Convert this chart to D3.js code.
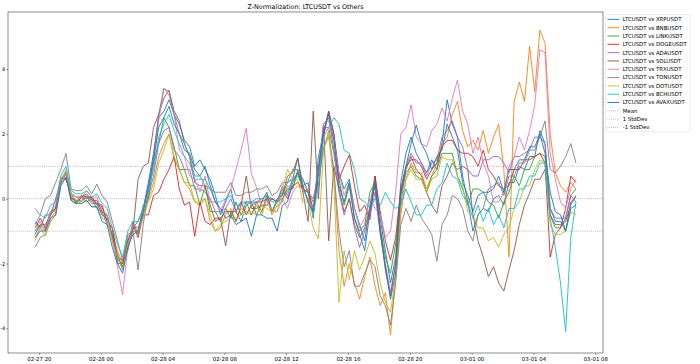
<!DOCTYPE html>
<html><head><meta charset="utf-8">
<script src="https://cdn.jsdelivr.net/npm/d3@7"></script>
<style>body{margin:0;background:#fff} text{font-family:"DejaVu Sans",sans-serif}</style>
</head><body><svg id="c" width="700" height="364"></svg>
<script>
const startTime = "2025-02-27T19:45:00Z";
const stepMinutes = 20;
const seriesNames = ["LTCUSDT vs XRPUSDT","LTCUSDT vs BNBUSDT","LTCUSDT vs LINKUSDT","LTCUSDT vs DOGEUSDT","LTCUSDT vs ADAUSDT","LTCUSDT vs SOLUSDT","LTCUSDT vs TRXUSDT","LTCUSDT vs TONUSDT","LTCUSDT vs DOTUSDT","LTCUSDT vs BCHUSDT","LTCUSDT vs AVAXUSDT"];
const seriesColors = ["#1f77b4","#ff7f0e","#2ca02c","#d62728","#9467bd","#8c564b","#e377c2","#7f7f7f","#bcbd22","#17becf","#1f77b4"];
const refLines = [0, 1, -1];
const refNames = ["Mean","1 StdDev","-1 StdDev"];
const yTicks = [-4,-2,0,2,4];

const xrp = [-1.1,-0.8,-0.95,-0.5,-0.3,0.6,0.8,-0.05,-0.15,0.05,
 -0.1,0.0,-0.3,-0.4,-0.8,-1.1,-1.9,-2.0,-1.3,-0.9,
 -0.7,-0.3,0.5,1.4,2.5,2.7,3.05,2.6,2.3,1.8,
 1.6,1.0,1.2,0.9,0.6,0.1,-0.5,-0.1,0.3,-0.4,
 -0.7,-0.2,-0.1,-0.5,-0.1,0.2,-0.4,0.0,0.1,0.5,
 0.6,1.25,0.4,0.5,-0.6,1.3,2.0,2.7,2.0,0.8,
 0.3,0.6,-0.3,-0.8,-1.3,-0.2,0.7,-0.6,-1.6,-2.6,
 -1.8,0.5,1.4,1.9,1.4,1.1,0.8,1.2,0.9,1.7,
 3.05,2.3,1.9,0.7,-0.1,-1.0,-0.5,-0.3,-0.4,0.0,
 0.1,-0.2,0.5,0.5,1.0,0.9,1.3,1.3,2.1,1.7,
 -0.3,-0.7,-0.7,-1.0,-0.1,0.05];
const bnb = [-1.2,-0.9,-1.0,-0.6,-0.4,0.5,0.75,0.0,-0.05,-0.1,
 0.1,-0.1,-0.15,-0.5,-0.5,-1.1,-1.6,-2.0,-1.2,-0.9,
 -0.9,-0.5,0.0,0.5,1.3,1.7,2.0,1.2,0.9,0.5,
 0.3,-0.1,-0.2,0.0,-0.7,-1.0,-0.9,-0.5,-0.3,-0.7,
 -0.3,-0.4,-0.5,-0.2,-0.5,0.0,-0.5,-0.2,-0.1,0.4,
 0.3,0.8,0.2,0.3,-0.5,0.7,1.5,2.1,0.8,-1.6,
 -2.7,-2.0,-2.6,-3.1,-2.4,-1.8,-2.7,-3.3,-2.9,-4.2,
 -2.4,-0.5,0.6,1.1,0.8,0.8,0.3,0.7,1.1,1.7,
 1.9,2.6,3.0,2.1,1.6,1.8,1.5,2.1,1.4,1.9,
 2.3,0.9,-1.8,3.0,3.6,3.0,4.7,3.3,5.2,4.8,
 2.0,0.8,0.4,0.2,0.5,0.3];
const link = [-1.0,-0.8,-0.8,-0.5,-0.3,0.65,0.6,0.15,-0.15,0.05,
 0.0,0.05,-0.2,-0.25,-0.7,-0.9,-2.0,-2.0,-1.5,-0.7,
 -1.1,-0.2,0.0,1.1,1.7,2.5,2.2,1.6,0.9,0.9,
 0.4,0.4,-0.2,0.4,-0.4,-0.4,-0.7,-0.3,-0.6,-0.1,
 -0.5,-0.1,-0.5,-0.1,-0.4,0.1,-0.4,-0.1,0.0,0.3,
 0.3,0.9,0.3,0.2,-0.4,0.9,2.3,2.5,1.5,0.6,
 -0.2,0.4,-0.6,-1.0,-0.8,0.2,0.5,-0.9,-1.8,-2.3,
 -1.4,0.1,0.8,1.0,0.7,0.6,0.2,0.7,0.9,1.4,
 1.4,1.4,0.7,0.3,-0.2,0.3,0.3,0.2,-0.1,-0.2,
 -0.6,-0.1,0.2,0.7,0.4,0.9,0.9,1.3,1.4,1.3,
 -0.5,-0.9,-0.9,-0.6,0.1,0.3];
const doge = [-0.9,-0.6,-0.9,-0.4,-0.3,0.5,0.65,0.05,-0.1,0.1,
 0.05,0.05,-0.15,-0.2,-0.7,-0.9,-1.8,-1.9,-1.6,-0.8,
 -1.2,-0.5,-0.5,0.1,0.2,0.6,0.9,1.3,0.3,-0.2,
 -0.1,-1.16,-0.1,-0.7,-0.8,-0.6,-0.6,-0.4,-0.4,-0.4,
 -0.1,-0.5,-0.2,-0.1,-0.1,0.0,0.0,-0.1,0.3,0.0,
 0.4,0.5,0.3,0.2,-0.3,0.8,1.9,2.7,2.0,0.6,
 1.0,1.35,0.4,-0.4,-0.2,-0.65,0.7,-0.4,-1.3,-1.9,
 -1.2,0.3,1.0,1.2,1.2,1.0,0.6,0.9,1.1,1.6,
 1.8,1.8,1.5,1.4,1.4,1.3,1.0,1.5,0.9,0.7,
 0.4,0.3,0.4,0.9,0.9,1.2,1.2,1.3,1.4,1.1,
 -1.8,-1.1,-0.9,-0.3,0.7,0.5];
const ada = [-1.5,-1.2,-1.1,-0.7,-0.5,0.5,0.75,0.0,-0.05,-0.05,
 0.05,-0.15,-0.15,-0.5,-0.6,-1.2,-1.7,-2.2,-1.4,-1.0,
 -1.0,-0.5,0.1,0.7,1.7,2.1,2.2,1.5,1.3,0.9,
 0.9,0.3,0.3,0.2,0.0,-0.4,-0.4,-0.3,0.0,-0.4,
 -0.1,-0.1,-0.1,-0.1,0.0,0.1,0.0,-0.1,0.4,0.1,
 0.6,0.8,0.6,0.2,0.0,0.8,2.2,2.2,1.4,0.2,
 -0.5,0.0,-0.9,-1.5,-1.0,-0.5,0.2,-1.1,-2.0,-2.9,
 -2.0,-0.2,1.0,1.4,1.1,1.1,0.7,1.1,1.2,1.9,
 2.1,2.4,1.9,1.6,0.9,0.7,0.7,1.2,1.2,1.3,
 1.3,1.1,0.8,1.3,1.3,1.4,1.5,1.9,1.9,1.7,
 -0.3,-0.6,-0.6,-0.6,0.1,-0.1];
const sol = [-0.7,-0.9,-0.5,-0.5,0.0,0.5,0.85,0.15,0.05,0.05,
 0.15,-0.05,-0.05,-0.4,-0.5,-1.2,-1.8,-2.1,-1.3,-1.0,
 0.6,1.0,1.1,2.2,2.6,3.1,3.35,2.7,2.4,1.7,
 1.3,0.5,0.4,0.4,-0.2,-0.7,-0.6,-1.45,-0.4,-0.7,
 -0.2,0.7,-0.3,-0.3,-0.2,-0.2,0.0,-0.1,0.1,0.7,
 0.8,1.26,0.2,-0.7,2.7,0.0,2.3,-1.3,1.0,0.3,
 -0.4,0.0,-0.8,-1.2,-0.9,-0.3,0.4,-1.0,-2.2,-3.0,
 -2.0,0.2,0.9,1.3,0.9,0.7,0.2,-0.2,-0.45,0.4,
 0.7,1.1,0.9,1.0,0.9,-0.5,-1.3,-1.8,-2.4,-2.1,
 -2.6,-2.85,-2.2,-1.6,-0.8,-0.2,0.17,0.6,0.6,0.9,
 -0.5,-0.8,-0.8,-0.7,-0.2,0.1];
const trx = [-1.0,-0.7,-1.0,-0.4,-0.2,0.6,0.85,0.15,0.05,0.05,
 0.25,0.05,0.05,-0.35,-0.5,-1.3,-2.1,-2.97,-1.5,-0.8,
 -0.9,-0.4,0.3,1.1,2.4,3.4,3.2,2.6,1.5,1.3,
 0.7,0.6,0.2,0.7,-0.1,-0.1,-0.4,0.0,0.3,0.9,
 1.5,2.18,0.77,0.35,-0.25,-0.05,-0.35,-0.4,0.0,-0.3,
 0.2,0.4,0.3,0.0,-0.3,0.9,2.3,2.4,1.8,0.8,
 0.1,0.5,-0.3,-0.9,-0.6,0.0,-0.3,-0.5,-1.2,-1.0,
 0.2,2.0,2.2,2.9,1.9,1.7,1.6,2.1,2.3,2.8,
 2.4,3.1,3.66,2.7,2.3,1.4,1.9,1.1,0.7,-0.1,
 -0.1,0.2,1.0,1.3,1.9,1.5,2.1,2.9,4.6,4.5,
 1.4,0.6,-0.1,-0.3,0.3,0.6];
const ton = [-0.3,-0.5,0.0,0.1,0.5,0.9,1.4,0.3,0.25,0.25,
 0.4,0.15,0.45,0.1,-0.1,-0.7,-1.3,-1.9,-1.1,-1.0,
 -2.2,-0.8,0.2,1.3,2.6,3.4,3.3,2.6,2.0,1.7,
 1.3,0.7,0.7,0.4,0.3,0.2,0.2,0.2,0.5,0.1,
 0.1,0.2,0.2,0.3,0.3,0.4,0.1,0.2,0.5,0.5,
 0.9,0.9,0.6,0.2,-0.1,0.4,1.6,1.9,0.9,-1.0,
 -2.1,-1.6,-2.7,-2.7,-2.3,-1.9,-2.1,-3.0,-3.3,-3.9,
 -2.6,-0.8,-0.3,-0.7,-0.2,-0.6,-0.84,-1.1,-1.93,-0.8,
 -0.5,0.1,0.0,-0.3,-1.0,-1.3,-0.5,-0.3,0.3,0.4,
 0.5,0.1,0.7,0.7,1.1,1.1,1.5,1.5,1.9,2.4,
 0.9,0.8,1.0,1.3,1.7,1.1];
const dot = [-1.3,-0.9,-1.15,-0.7,-0.5,0.4,0.9,0.15,-0.05,-0.15,
 -0.05,-0.25,-0.25,-0.6,-0.7,-1.3,-1.8,-2.2,-1.4,-1.1,
 -1.0,-0.6,-0.1,0.3,1.1,1.5,2.0,1.3,0.9,0.5,
 0.5,-0.1,-0.1,0.0,-0.5,-1.0,-0.8,-0.7,-0.6,-0.6,
 -0.5,-0.4,-0.4,-0.5,-0.2,-0.3,-0.4,-0.4,0.3,0.9,
 0.6,0.6,-0.1,-0.1,-0.9,-1.24,1.5,2.0,0.5,-3.2,
 -1.6,-2.5,-1.6,-2.2,-1.8,-1.3,-1.7,-2.6,-3.2,-3.5,
 -2.4,-0.2,0.6,0.9,0.6,0.6,0.2,0.6,0.7,1.3,
 1.2,1.2,0.7,0.4,-0.4,-0.5,-0.9,-0.9,-1.3,-1.2,
 -1.5,-1.1,-0.9,-0.3,-0.1,0.4,0.4,0.9,1.2,1.1,
 -0.8,-1.1,-1.1,-1.0,-0.4,-0.5];
const bch = [-0.8,-0.5,-0.6,-0.2,-0.1,0.7,1.0,0.25,0.15,0.15,
 0.25,0.05,0.15,-0.15,-0.3,-0.9,-1.4,-1.8,-1.0,-0.7,
 -0.7,-0.3,0.3,0.9,1.9,2.3,2.6,2.1,1.7,1.3,
 1.1,0.6,0.6,0.6,0.3,-0.1,-0.1,0.0,0.1,-0.2,
 -0.2,-0.1,-0.1,0.0,0.0,0.1,-0.1,-0.1,0.2,0.2,
 0.6,0.7,0.4,-0.1,-0.5,0.4,1.9,2.2,2.5,2.3,
 1.5,1.4,0.9,0.0,-0.1,-0.3,0.0,-0.2,0.2,-0.1,
 -0.3,-0.2,0.3,-0.1,-0.5,-0.5,-0.2,-0.2,0.3,0.5,
 1.1,0.7,0.6,0.1,-0.1,-0.6,-0.2,-0.7,-0.3,-0.8,
 -0.5,-0.9,-0.3,-0.3,0.3,0.3,0.7,0.7,1.1,1.1,
 -0.6,-1.5,-2.6,-4.1,-1.2,-0.1];
const avax = [-1.2,-1.0,-1.0,-0.6,-0.5,0.4,0.65,-0.05,-0.15,-0.15,
 -0.05,-0.25,-0.25,-0.7,-0.8,-1.5,-2.0,-2.3,-1.5,-1.1,
 -1.0,-0.4,0.4,1.2,2.2,2.5,2.85,2.3,2.0,1.5,
 1.4,0.9,0.7,1.0,0.4,-0.1,-0.3,-0.6,-0.5,-0.8,
 -0.7,-0.6,-1.16,-0.5,-0.5,-0.6,-0.6,-1.0,-0.2,-0.1,
 0.5,0.8,0.4,-0.1,-0.4,0.9,2.1,2.6,1.8,0.4,
 -0.1,0.5,-0.6,-1.1,-1.6,-0.4,0.5,-0.9,-2.1,-3.1,
 -2.3,0.2,1.0,1.7,2.27,1.7,1.4,0.9,1.3,1.5,
 2.3,1.9,1.5,0.5,0.1,-0.4,0.1,0.2,0.2,0.3,
 0.7,0.2,0.9,0.9,1.2,1.2,1.6,1.6,2.0,1.4,
 0.2,-0.4,-0.5,-1.0,-0.3,-0.2];
const seriesValues = [xrp,bnb,link,doge,ada,sol,trx,ton,dot,bch,avax];

const W = 700, H = 364;
const M = {left: 8, right: 603, top: 12, bottom: 353};
const t0 = new Date(startTime);
const n = xrp.length;
const times = d3.range(n).map(i => new Date(+t0 + i * stepMinutes * 60000));
const ext = d3.extent(times);
const pad = (ext[1] - ext[0]) * 0.05;
const x = d3.scaleUtc().domain([new Date(+ext[0] - pad), new Date(+ext[1] + pad)]).range([M.left, M.right]);
const y = d3.scaleLinear().domain([-4.76, 5.76]).range([M.bottom, M.top]);

const svg = d3.select("#c");
svg.append("defs").append("clipPath").attr("id","clip").append("rect")
  .attr("x", M.left).attr("y", M.top).attr("width", M.right - M.left).attr("height", M.bottom - M.top);

const g = svg.append("g").attr("clip-path","url(#clip)");
const line = d3.line().defined(d => d != null).x((d,i) => x(times[i])).y(d => y(d));
seriesValues.forEach((vals, k) => {
  g.append("path").attr("d", line(vals)).attr("fill","none")
   .attr("stroke", seriesColors[k]).attr("stroke-width", 0.9).attr("stroke-linejoin","round");
});
refLines.forEach(v => {
  g.append("line").attr("x1", M.left).attr("x2", M.right).attr("y1", y(v)).attr("y2", y(v))
   .attr("stroke","#808080").attr("stroke-width",0.7).attr("stroke-dasharray","0.7,1.2");
});

// axes
const fmt = d3.utcFormat("%m-%d %H");
const xAxis = d3.axisBottom(x).ticks(d3.utcHour.every(4)).tickFormat(fmt).tickSize(2).tickPadding(2);
const xg = svg.append("g").attr("transform", `translate(0,${M.bottom})`).call(xAxis);
const yAxis = d3.axisLeft(y).tickValues(yTicks).tickFormat(d => String(d)).tickSize(1.8).tickPadding(1);
const yg = svg.append("g").attr("transform", `translate(${M.left},0)`).call(yAxis);
[xg, yg].forEach(a => {
  a.select(".domain").remove();
  a.selectAll(".tick line").attr("stroke","#000").attr("stroke-width",0.4);
  a.selectAll(".tick text").attr("font-size", 5.4).attr("fill","#000").attr("font-family","DejaVu Sans");
});
yg.selectAll(".tick text").attr("font-size", 5);
svg.append("rect").attr("x", M.left).attr("y", M.top).attr("width", M.right - M.left).attr("height", M.bottom - M.top)
  .attr("fill","none").attr("stroke","#000").attr("stroke-width",0.45);

svg.append("text").attr("x", (M.left + M.right)/2).attr("y", 8.6).attr("text-anchor","middle")
  .attr("font-size", 6.4).attr("fill","#000").text("Z-Normalization: LTCUSDT vs Others");

// legend
const lg = svg.append("g");
lg.append("rect").attr("x", 605.5).attr("y", 14.8).attr("width", 84.5).attr("height", 117).attr("rx", 1.2)
  .attr("fill","#fff").attr("fill-opacity",0.8).attr("stroke","#d6d6d6").attr("stroke-width",0.45);
const entries = seriesNames.map((s,k) => ({label:s, color:seriesColors[k], dash:null}))
  .concat(refNames.map(s => ({label:s, color:"#808080", dash:"0.7,1.2"})));
entries.forEach((e,k) => {
  const yy = 19.4 + k * 8.31;
  const l = lg.append("line").attr("x1", 607.5).attr("x2", 619.2).attr("y1", yy).attr("y2", yy)
    .attr("stroke", e.color).attr("stroke-width", e.dash ? 0.7 : 0.9);
  if (e.dash) l.attr("stroke-dasharray", e.dash);
  lg.append("text").attr("x", 622.7).attr("y", yy + 1.9).attr("font-size", 5.4).attr("fill","#000").text(e.label);
});
</script></body></html>
